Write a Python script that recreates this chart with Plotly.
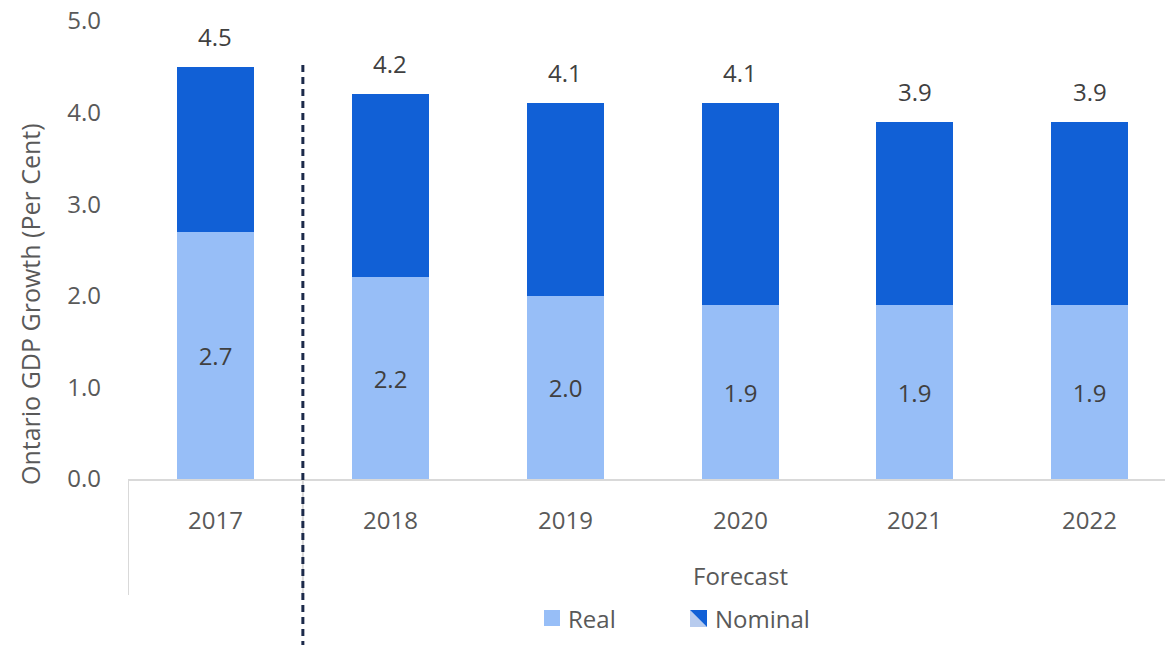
import plotly.graph_objects as go

# Ontario GDP growth, per cent
years = ["2017", "2018", "2019", "2020", "2021", "2022"]
real_growth = [2.7, 2.2, 2.0, 1.9, 1.9, 1.9]
nominal_growth = [4.5, 4.2, 4.1, 4.1, 3.9, 3.9]
y_ticks = [0.0, 1.0, 2.0, 3.0, 4.0, 5.0]

REAL_COLOR = "#97bef7"
NOMINAL_COLOR = "#1160d6"
ICON_LIGHT = "#b7cbee"
TEXT_COLOR = "#404040"
TICK_COLOR = "#595959"
GRID_GRAY = "#d9d9d9"
DASH_COLOR = "#1c2a4a"
FONT = "Open Sans, Noto Sans, sans-serif"
FS = 24

W, H = 1165, 645
M_L, M_R, M_T, M_B = 128, 0, 21, 166
PW, PH = W - M_L - M_R, H - M_T - M_B


def px_x(px):
    return (px - M_L) / PW


def px_y(py):
    return (H - M_B - py) / PH


x_idx = list(range(len(years)))
bar_w = 0.44

fig = go.Figure()
fig.add_trace(go.Bar(
    x=x_idx, y=nominal_growth, width=bar_w, marker=dict(color=NOMINAL_COLOR, line=dict(width=0)),
    name="Nominal", showlegend=False, hoverinfo="y",
))
fig.add_trace(go.Bar(
    x=x_idx, y=real_growth, width=bar_w, marker=dict(color=REAL_COLOR, line=dict(width=0)),
    name="Real", showlegend=False, hoverinfo="y",
    text=[f"{v:.1f}" for v in real_growth], textposition="inside",
    insidetextanchor="middle", textangle=0,
    textfont=dict(family=FONT, size=FS, color=TEXT_COLOR),
))

annotations = []
# nominal totals above each bar
for i, v in zip(x_idx, nominal_growth):
    annotations.append(dict(
        x=i, y=v, xref="x", yref="y", text=f"{v:.1f}", showarrow=False,
        yanchor="bottom", yshift=12, font=dict(family=FONT, size=FS, color=TEXT_COLOR),
    ))
# category labels
for i, yr in zip(x_idx, years):
    annotations.append(dict(
        x=i, y=px_y(519), xref="x", yref="paper", text=yr, showarrow=False,
        yanchor="middle", font=dict(family=FONT, size=FS, color=TICK_COLOR),
    ))
# group label for projection years
annotations.append(dict(
    x=3, y=px_y(575), xref="x", yref="paper", text="Forecast", showarrow=False,
    yanchor="middle", font=dict(family=FONT, size=FS, color=TICK_COLOR),
))
# axis title
annotations.append(dict(
    x=px_x(30), y=px_y(304), xref="paper", yref="paper", text="Ontario GDP Growth (Per Cent)",
    showarrow=False, textangle=-90, xanchor="center", yanchor="middle",
    font=dict(family=FONT, size=25, color=TICK_COLOR),
))
# legend labels
annotations.append(dict(
    x=px_x(566), y=px_y(618), xref="paper", yref="paper", text="Real", showarrow=False,
    xanchor="left", yanchor="middle", font=dict(family=FONT, size=FS, color=TICK_COLOR),
))
annotations.append(dict(
    x=px_x(713), y=px_y(618), xref="paper", yref="paper", text="Nominal", showarrow=False,
    xanchor="left", yanchor="middle", font=dict(family=FONT, size=FS, color=TICK_COLOR),
))

shapes = [
    # category separators below the axis
    dict(type="line", xref="x", yref="paper", x0=-0.5, x1=-0.5, y0=0, y1=px_y(595),
         line=dict(color=GRID_GRAY, width=2)),
    dict(type="line", xref="x", yref="paper", x0=0.5, x1=0.5, y0=0, y1=px_y(595),
         line=dict(color=GRID_GRAY, width=2)),
    # actual / forecast divider
    dict(type="line", xref="x", yref="paper", x0=0.5, x1=0.5, y0=px_y(65), y1=px_y(645),
         line=dict(color=DASH_COLOR, width=3, dash="7px,5px")),
    # legend swatches
    dict(type="rect", xref="paper", yref="paper", x0=px_x(544), x1=px_x(560),
         y0=px_y(626), y1=px_y(610), fillcolor=REAL_COLOR, line=dict(width=0)),
]
x0, x1, y0, y1 = px_x(690), px_x(707), px_y(627), px_y(610)
shapes.append(dict(type="path", xref="paper", yref="paper",
                   path=f"M {x0} {y0} L {x0} {y1} L {x1} {y0} Z",
                   fillcolor=ICON_LIGHT, line=dict(width=0)))
shapes.append(dict(type="path", xref="paper", yref="paper",
                   path=f"M {x0} {y1} L {x1} {y1} L {x1} {y0} Z",
                   fillcolor=NOMINAL_COLOR, line=dict(width=0)))

fig.update_layout(
    width=W, height=H, autosize=False,
    margin=dict(l=M_L, r=M_R, t=M_T, b=M_B),
    paper_bgcolor="white", plot_bgcolor="white",
    barmode="overlay", bargap=0,
    font=dict(family=FONT, size=FS, color=TICK_COLOR),
    annotations=annotations, shapes=shapes,
    xaxis=dict(
        range=[-0.5, 5.43], tickvals=x_idx, showticklabels=False, showgrid=False,
        zeroline=False, showline=True, linecolor=GRID_GRAY, linewidth=2, ticks="",
    ),
    yaxis=dict(
        range=[0, 5], tickvals=y_ticks, ticktext=[f"{v:.1f}" for v in y_ticks],
        showgrid=False, zeroline=False, showline=False, ticks="",
        ticklabelstandoff=26, tickfont=dict(family=FONT, size=FS, color=TICK_COLOR),
    ),
)

fig.write_html("out.html", config=dict(displayModeBar=False))
